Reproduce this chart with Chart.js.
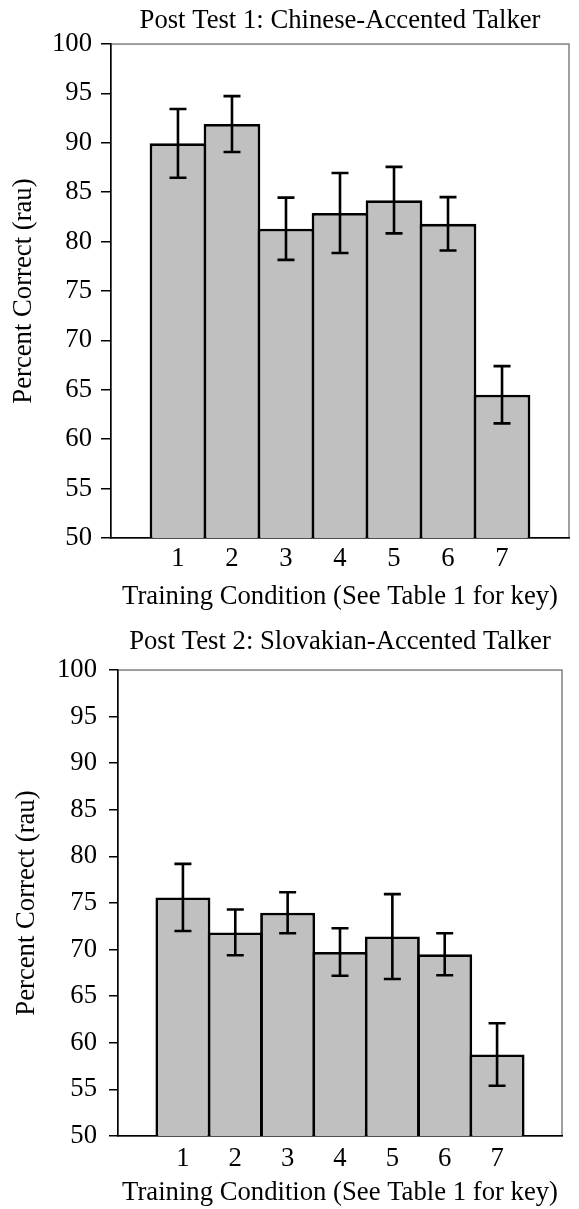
<!DOCTYPE html>
<html>
<head>
<meta charset="utf-8">
<script src="https://cdn.jsdelivr.net/npm/chart.js@4.4.1/dist/chart.umd.min.js"></script>
<style>
  body { margin: 0; background: #fff; }
  .box { position: relative; width: 579px; }
  #box1 { height: 620px; }
  #box2 { height: 589px; }
</style>
</head>
<body>
<div class="box" id="box1"><canvas id="chart1"></canvas></div>
<div class="box" id="box2"><canvas id="chart2"></canvas></div>
<script>
// --- data ---
const conditions = [1, 2, 3, 4, 5, 6, 7];
const test1Means = [89.95, 91.9, 81.3, 82.9, 84.2, 81.8, 64.5];
const test1Errors = [3.48, 2.83, 3.15, 4.05, 3.37, 2.7, 2.9];
const test2Means = [75.6, 71.85, 73.95, 69.75, 71.4, 69.5, 58.75];
const test2Errors = [3.6, 2.45, 2.2, 2.55, 4.55, 2.25, 3.35];
const yMin = 50, yMax = 100, yStep = 5;

const SERIF = "'Liberation Serif', 'Times New Roman', serif";
const FS = 26.7;

// gray frame on top/right of the plot area (axes draw black over left/bottom)
const framePlugin = {
    id: "frame",
    beforeDraw(chart) {
        const { ctx, chartArea: a } = chart;
        ctx.save();
        ctx.strokeStyle = "#808080";
        ctx.lineWidth = 1.5;
        ctx.strokeRect(a.left, a.top, a.right - a.left, a.bottom - a.top);
        ctx.restore();
    }
};

// error bars from dataset.errors
const errorBarPlugin = {
    id: "errorBars",
    afterDatasetsDraw(chart) {
        const { ctx, scales: { x, y } } = chart;
        const ds = chart.data.datasets[0];
        ctx.save();
        ctx.strokeStyle = "#000";
        ctx.lineWidth = 2.6;
        ds.data.forEach((p, i) => {
            const px = x.getPixelForValue(p.x);
            const top = y.getPixelForValue(p.y + ds.errors[i]);
            const bot = y.getPixelForValue(p.y - ds.errors[i]);
            ctx.beginPath();
            ctx.moveTo(px, top); ctx.lineTo(px, bot);
            ctx.moveTo(px - 8.5, top); ctx.lineTo(px + 8.5, top);
            ctx.moveTo(px - 8.5, bot); ctx.lineTo(px + 8.5, bot);
            ctx.stroke();
        });
        ctx.restore();
    }
};

function makeChart(id, title, means, errors, L) {
    const ctx = document.getElementById(id).getContext("2d");
    return new Chart(ctx, {
        type: "bar",
        data: {
            datasets: [{
                data: conditions.map((c, i) => ({ x: c, y: means[i] })),
                errors: errors,
                backgroundColor: "#c0c0c0",
                borderColor: "#000",
                borderWidth: 2.8,
                borderSkipped: "start",
                barPercentage: 1.05,
                categoryPercentage: 1,
                inflateAmount: 0
            }]
        },
        options: {
            responsive: true,
            maintainAspectRatio: false,
            animation: false,
            layout: { padding: { left: 0, right: L.right, top: 0, bottom: 0 } },
            plugins: {
                legend: { display: false },
                tooltip: { enabled: false },
                title: {
                    display: true,
                    text: title,
                    fullSize: false,
                    color: "#000",
                    font: { family: SERIF, size: FS, weight: "normal" },
                    padding: L.titlePad
                }
            },
            scales: {
                x: {
                    type: "linear",
                    offset: false,
                    min: -0.24,
                    max: 8.24,
                    afterBuildTicks: (s) => { s.ticks = conditions.map(v => ({ value: v })); },
                    afterFit: (s) => { s.height = L.xHeight; },
                    grid: { display: false, drawTicks: false },
                    border: { display: true, color: "#000", width: 1.5 },
                    ticks: {
                        color: "#000",
                        padding: L.xTickPad,
                        font: { family: SERIF, size: FS },
                        callback: (v) => String(v)
                    },
                    title: {
                        display: true,
                        text: "Training Condition (See Table 1 for key)",
                        color: "#000",
                        font: { family: SERIF, size: FS },
                        padding: L.xTitlePad
                    }
                },
                y: {
                    min: yMin,
                    max: yMax,
                    afterFit: (s) => { s.width = L.yWidth; },
                    grid: {
                        drawOnChartArea: false,
                        drawTicks: true,
                        tickLength: L.tickLen,
                        color: "#000",
                        lineWidth: 1.5
                    },
                    border: { color: "#000", width: 1.5 },
                    ticks: {
                        stepSize: yStep,
                        color: "#000",
                        padding: L.yTickPad,
                        font: { family: SERIF, size: FS }
                    },
                    title: {
                        display: true,
                        text: "Percent Correct (rau)",
                        color: "#000",
                        font: { family: SERIF, size: FS },
                        padding: L.yTitlePad
                    }
                }
            }
        },
        plugins: [framePlugin, errorBarPlugin]
    });
}

makeChart("chart1", "Post Test 1: Chinese-Accented Talker", test1Means, test1Errors, {
    right: 10, xHeight: 82, yWidth: 111, tickLen: 10, yTickPad: 9, xTickPad: 4.7,
    titlePad: { top: 4.7, bottom: 7.3 },
    xTitlePad: { top: 0, bottom: 7.3 },
    yTitlePad: { top: 8, bottom: 0 }
});

makeChart("chart2", "Post Test 2: Slovakian-Accented Talker", test2Means, test2Errors, {
    right: 17, xHeight: 73, yWidth: 118, tickLen: 9, yTickPad: 12, xTickPad: 7.4,
    titlePad: { top: 5.7, bottom: 12.3 },
    xTitlePad: { top: 0, bottom: 0 },
    yTitlePad: { top: 11, bottom: 0 }
});
</script>
</body>
</html>
